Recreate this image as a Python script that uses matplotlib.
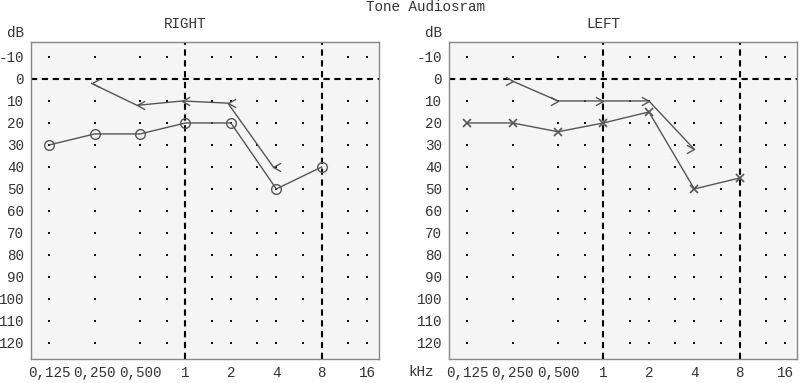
import matplotlib
matplotlib.use('Agg')
import matplotlib.pyplot as plt
from matplotlib.path import Path
from matplotlib.ticker import NullLocator
import matplotlib.transforms as mtransforms

plt.rcParams['font.family'] = ['Liberation Mono', 'DejaVu Sans Mono']
plt.rcParams['axes.unicode_minus'] = False

# ---- data ----
freq_grid = [0.125, 0.25, 0.5, 0.75, 1, 1.5, 2, 3, 4, 6, 8, 12, 16]
tick_freqs = [0.125, 0.25, 0.5, 1, 2, 4, 8, 16]
tick_labels = ['0,125', '0,250', '0,500', '1', '2', '4', '8', '16']
db_ticks = [-10, 0, 10, 20, 30, 40, 50, 60, 70, 80, 90, 100, 110, 120]
dashed_freqs = [1, 8]

right_ac_freq = [0.125, 0.25, 0.5, 1, 2, 4, 8]
right_ac_db = [30, 25, 25, 20, 20, 50, 40]
right_bc_freq = [0.25, 0.5, 1, 2, 4]
right_bc_db = [2, 12, 10, 11, 40]

left_ac_freq = [0.125, 0.25, 0.5, 1, 2, 4, 8]
left_ac_db = [20, 20, 24, 20, 15, 50, 45]
left_bc_freq = [0.25, 0.5, 1, 2, 4]
left_bc_db = [1, 10, 10, 10, 32]

# ---- markers ----
lt_marker = Path([(1, 0.55), (0, 0), (1, -0.55)], [Path.MOVETO, Path.LINETO, Path.LINETO])
gt_marker = Path([(-1, 0.55), (0, 0), (-1, -0.55)], [Path.MOVETO, Path.LINETO, Path.LINETO])

W, H = 800, 383
fig = plt.figure(figsize=(W / 100, H / 100), dpi=100)

line_col = '#555555'
txt_col = '#333333'
fs = 10.3


def setup_axes(left_px, name, show_khz):
    ax = fig.add_axes([left_px / W, 24 / H, 348 / W, 317 / H])
    ax.set_facecolor('#f5f5f5')
    ax.set_xscale('log', base=2)
    ax.set_xlim(2 ** -3.40, 2 ** 4.26)
    ax.set_ylim(127.3, -16.8)
    for s in ax.spines.values():
        s.set_color('#888888')
        s.set_linewidth(1.0)
    ax.set_xticks(tick_freqs)
    ax.set_xticklabels(tick_labels, fontsize=fs, color=txt_col)
    ax.xaxis.set_minor_locator(NullLocator())
    ax.set_yticks(db_ticks)
    ax.set_yticklabels([str(d) for d in db_ticks], fontsize=fs, color=txt_col)
    ax.yaxis.set_minor_locator(NullLocator())
    ax.tick_params(axis='x', length=0, pad=5)
    ax.tick_params(axis='y', length=0, pad=5)
    # dotted grid
    for f in freq_grid:
        if f in dashed_freqs:
            continue
        ys = [d for d in db_ticks if d != 0]
        ax.plot([f] * len(ys), ys, ls='none', marker='s', ms=1.5,
                color='black', mew=0, zorder=1)
    ax.axhline(0, color='black', ls=(0, (3, 2.2)), lw=1.5, zorder=2)
    for f in dashed_freqs:
        ax.axvline(f, color='black', ls=(0, (3, 2.2)), lw=1.5, zorder=2)
    trans = mtransforms.blended_transform_factory(ax.transData, ax.transAxes)
    ax.text(1, 1.057, name, transform=trans, ha='center', va='center',
            fontsize=fs, color=txt_col)
    fig.text((left_px - 16) / W, 1 - 33 / H, 'dB', ha='center', va='center',
             fontsize=fs, color=txt_col)
    if show_khz:
        fig.text((left_px - 28) / W, 1 - 372 / H, 'kHz', ha='center',
                 va='center', fontsize=fs, color=txt_col)
    return ax


ax1 = setup_axes(31, 'RIGHT', False)
ax2 = setup_axes(449, 'LEFT', True)

# RIGHT ear
ax1.plot(right_ac_freq, right_ac_db, color=line_col, lw=1.0, marker='o',
         ms=7, mfc='none', mec=line_col, mew=1.0, zorder=3)
off = mtransforms.ScaledTranslation(-3 / 100, 0, fig.dpi_scale_trans)
ax1.plot(right_bc_freq, right_bc_db, color=line_col, lw=1.0, marker=lt_marker,
         ms=11, mfc='none', mec=line_col, mew=1.0, zorder=3,
         transform=ax1.transData + off)

# LEFT ear
ax2.plot(left_ac_freq, left_ac_db, color=line_col, lw=1.0, marker='x',
         ms=6, mec=line_col, mew=1.2, zorder=3)
ax2.plot(left_bc_freq, left_bc_db, color=line_col, lw=1.0, marker=gt_marker,
         ms=11, mfc='none', mec=line_col, mew=1.0, zorder=3)

fig.text(425 / W, 1 - 7 / H, 'Tone Audiosram', ha='center', va='center',
         fontsize=fs, color=txt_col)

fig.savefig('out.png', dpi=100)
